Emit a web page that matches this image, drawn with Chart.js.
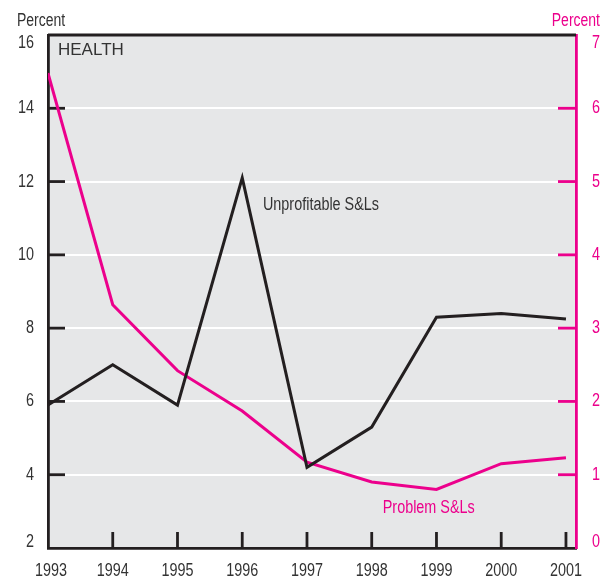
<!DOCTYPE html>
<html>
<head>
<meta charset="utf-8">
<script src="https://cdn.jsdelivr.net/npm/chart.js@4/dist/chart.umd.min.js"></script>
<style>
  html, body { margin: 0; padding: 0; background: #fff; }
  #wrap { width: 608px; height: 577px; }
</style>
</head>
<body>
<div id="wrap"><canvas id="chart" width="608" height="577"></canvas></div>
<script>
'use strict';

// data
const years = [1993, 1994, 1995, 1996, 1997, 1998, 1999, 2000, 2001];
const unprofitable = [5.9, 7.0, 5.9, 12.1, 4.2, 5.3, 8.3, 8.4, 8.25];   // left axis
const problem = [6.48, 3.32, 2.42, 1.87, 1.17, 0.9, 0.8, 1.15, 1.23];    // right axis
const leftTicks = [2, 4, 6, 8, 10, 12, 14, 16];
const rightTicks = [0, 1, 2, 3, 4, 5, 6, 7];

const DARK = '#231f20';
const MAGENTA = '#ec008c';
const TEXT = '#333333';
const SANS = '"Liberation Sans", Arial, sans-serif';
const SQUEEZE = 0.8;   // fake a condensed face from Liberation Sans

// condensed text helper: squeeze horizontally around the anchor
function narrowText(ctx, str, x, y, size, align, baseline) {
  ctx.save();
  ctx.font = size + 'px ' + SANS;
  ctx.textAlign = align || 'left';
  ctx.textBaseline = baseline || 'alphabetic';
  ctx.translate(x, y);
  ctx.scale(SQUEEZE, 1);
  ctx.fillText(str, 0, 0);
  ctx.restore();
}

// ── background + frame + inner tick marks + labels ──────────────────
const decor = {
  id: 'decor',
  beforeDraw(chart) {
    const { ctx, chartArea: a } = chart;
    ctx.save();
    ctx.fillStyle = '#e6e7e8';
    ctx.fillRect(a.left, a.top, a.right - a.left, a.bottom - a.top);
    ctx.restore();
  },
  beforeDatasetsDraw(chart) {
    const { ctx, chartArea: a, scales } = chart;
    ctx.save();
    ctx.lineWidth = 2.8;
    // top frame
    ctx.strokeStyle = DARK;
    ctx.beginPath(); ctx.moveTo(a.left, a.top); ctx.lineTo(a.right, a.top); ctx.stroke();
    // left ticks
    leftTicks.slice(1, -1).forEach(v => {
      const y = scales.y.getPixelForValue(v);
      ctx.beginPath(); ctx.moveTo(a.left, y); ctx.lineTo(a.left + 17, y); ctx.stroke();
    });
    // bottom ticks
    years.slice(1).forEach(v => {
      const x = scales.x.getPixelForValue(v);
      ctx.beginPath(); ctx.moveTo(x, a.bottom); ctx.lineTo(x, a.bottom - 16); ctx.stroke();
    });
    // right ticks
    ctx.strokeStyle = MAGENTA;
    rightTicks.slice(1, -1).forEach(v => {
      const y = scales.y2.getPixelForValue(v);
      ctx.beginPath(); ctx.moveTo(a.right - 18, y); ctx.lineTo(a.right, y); ctx.stroke();
    });
    ctx.restore();
  },
  afterDraw(chart) {
    const { ctx, chartArea: a, scales } = chart;
    ctx.save();

    // tick labels, placed from the scales; end labels tucked inside the frame
    ctx.fillStyle = TEXT;
    leftTicks.forEach((v, i) => {
      let y = scales.y.getPixelForValue(v);
      if (i === leftTicks.length - 1) y += 8.5;
      if (i === 0) y -= 6;
      narrowText(ctx, String(v), a.left - 14, y, 18, 'right', 'middle');
    });
    ctx.fillStyle = MAGENTA;
    rightTicks.forEach((v, i) => {
      let y = scales.y2.getPixelForValue(v);
      if (i === rightTicks.length - 1) y += 8.5;
      if (i === 0) y -= 6;
      narrowText(ctx, String(v), a.right + 16, y, 18, 'left', 'middle');
    });
    ctx.fillStyle = TEXT;
    years.forEach((v, i) => {
      let x = scales.x.getPixelForValue(v);
      if (i === 0) x += 3;
      narrowText(ctx, String(v), x, a.bottom + 27.5, 18, 'center', 'alphabetic');
    });

    // axis titles
    narrowText(ctx, 'Percent', 17, 25.5, 17.5, 'left');
    ctx.fillStyle = MAGENTA;
    narrowText(ctx, 'Percent', 600, 25.5, 17.5, 'right');

    // panel title
    ctx.fillStyle = TEXT;
    ctx.font = '17px ' + SANS;
    ctx.textAlign = 'left';
    ctx.textBaseline = 'alphabetic';
    ctx.fillText('HEALTH', 58, 55);

    // series labels
    narrowText(ctx, 'Unprofitable S&Ls', scales.x.getPixelForValue(1996.32), scales.y.getPixelForValue(11.22), 18, 'left');
    ctx.fillStyle = MAGENTA;
    narrowText(ctx, 'Problem S&Ls', scales.x.getPixelForValue(1998.17), scales.y2.getPixelForValue(0.48), 18, 'left');
    ctx.restore();
  }
};

new Chart(document.getElementById('chart'), {
  type: 'line',
  data: {
    datasets: [
      {
        label: 'Unprofitable S&Ls',
        data: years.map((x, i) => ({ x, y: unprofitable[i] })),
        yAxisID: 'y',
        borderColor: DARK,
        borderWidth: 3,
        pointRadius: 0,
        tension: 0,
      },
      {
        label: 'Problem S&Ls',
        data: years.map((x, i) => ({ x, y: problem[i] })),
        yAxisID: 'y2',
        borderColor: MAGENTA,
        borderWidth: 3,
        pointRadius: 0,
        tension: 0,
      },
    ]
  },
  options: {
    responsive: false,
    animation: false,
    devicePixelRatio: 1,
    layout: { padding: { top: 35, left: 0, right: 0, bottom: 0 } },
    plugins: { legend: { display: false }, tooltip: { enabled: false } },
    scales: {
      x: {
        type: 'linear',
        min: 1993,
        max: 2001.155,
        afterFit: s => { s.height = 29; },
        grid: { display: false },
        border: { display: true, color: DARK, width: 2.8 },
        ticks: { display: false, stepSize: 1, includeBounds: false }
      },
      y: {
        position: 'left',
        min: 2,
        max: 16,
        afterFit: s => { s.width = 48; },
        grid: {
          drawTicks: false,
          lineWidth: 2,
          color: c => (c.tick.value === 2 || c.tick.value === 16) ? 'rgba(0,0,0,0)' : '#ffffff'
        },
        border: { display: true, color: DARK, width: 2.8 },
        ticks: { display: false, stepSize: 2 }
      },
      y2: {
        position: 'right',
        min: 0,
        max: 7,
        afterFit: s => { s.width = 32; },
        grid: { display: false, drawTicks: false },
        border: { display: true, color: MAGENTA, width: 2.8 },
        ticks: { display: false, stepSize: 1 }
      }
    }
  },
  plugins: [decor]
});
</script>
</body>
</html>
